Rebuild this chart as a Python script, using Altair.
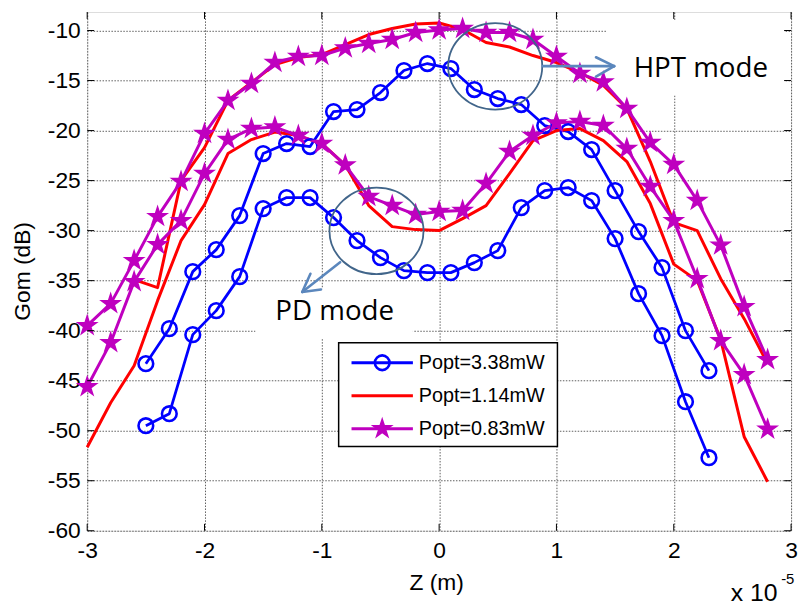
import altair as alt
import pandas as pd

# ---------------- data (Z in units of 1e-5 m, Gom in dB) ----------------
z_blue = [-2.5, -2.3, -2.1, -1.9, -1.7, -1.5, -1.3, -1.1, -0.9, -0.7, -0.5, -0.3, -0.1,
          0.1, 0.3, 0.5, 0.7, 0.9, 1.1, 1.3, 1.5, 1.7, 1.9, 2.1, 2.3]
blue_hpt = [-43.3, -39.8, -34.1, -31.9, -28.5, -22.3, -21.3, -21.6, -18.1, -17.9, -16.2, -14.0, -13.3,
            -13.8, -15.9, -16.8, -17.4, -19.5, -20.1, -21.9, -26.0, -30.1, -33.7, -40.0, -44.0]
blue_pd = [-49.5, -48.3, -40.4, -38.0, -34.6, -27.8, -26.7, -26.7, -28.7, -31.0, -32.7, -34.0, -34.2,
           -34.2, -33.2, -32.0, -27.7, -26.0, -25.7, -27.0, -30.8, -36.3, -40.5, -47.1, -52.7]

z_full = [-3.0, -2.8, -2.6, -2.4, -2.2, -2.0, -1.8, -1.6, -1.4, -1.2, -1.0, -0.8, -0.6, -0.4, -0.2,
          0.0, 0.2, 0.4, 0.6, 0.8, 1.0, 1.2, 1.4, 1.6, 1.8, 2.0, 2.2, 2.4, 2.6, 2.8]
mag_hpt = [-39.5, -37.3, -33.0, -28.6, -25.1, -20.3, -17.0, -15.3, -13.2, -12.6, -12.5, -11.75, -11.3, -10.9, -10.2,
           -9.95, -9.8, -10.2, -10.2, -10.9, -12.6, -14.3, -15.15, -17.8, -21.2, -23.4, -27.0, -31.45, -37.6, -42.9]
mag_pd = [-45.6, -41.2, -35.1, -31.4, -29.0, -24.3, -20.9, -19.8, -19.65, -20.5, -21.3, -23.45, -26.6, -27.5, -28.4,
          -28.1, -28.0, -25.3, -22.1, -20.5, -19.25, -19.1, -19.5, -21.8, -25.6, -29.0, -34.8, -41.0, -44.4, -49.85]
red_pd = [-51.65, -47.2, -43.5, -37.0, -31.0, -27.4, -22.3, -20.9, -20.15, -20.5, -21.3, -23.45, -27.5, -29.6, -29.9,
          -30.0, -28.8, -27.5, -24.3, -21.0, -20.0, -19.8, -21.0, -23.1, -27.3, -33.35, -35.0, -40.9, -50.6, -55.1]

z_red_hpt = [-2.6, -2.4, -2.2, -2.0, -1.8, -1.6, -1.4, -1.2, -1.0, -0.8, -0.6, -0.4, -0.2,
             0.0, 0.2, 0.4, 0.6, 0.8, 1.0, 1.2, 1.4, 1.6, 1.8, 2.0, 2.2, 2.4, 2.6, 2.8]
red_hpt = [-34.9, -35.7, -25.0, -21.7, -17.0, -15.2, -13.4, -12.7, -12.4, -11.4, -10.4, -9.8, -9.35,
           -9.25, -9.9, -11.2, -11.65, -12.5, -13.2, -14.2, -15.5, -17.8, -23.1, -29.2, -30.0, -34.8, -38.8, -43.3]

series_labels = ["Popt=3.38mW", "Popt=1.14mW", "Popt=0.83mW"]
series_colors = ["#0000ff", "#ff0000", "#bf00bf"]

x_ticks = [-3, -2, -1, 0, 1, 2, 3]
y_ticks = [-60, -55, -50, -45, -40, -35, -30, -25, -20, -15, -10]

# ---------------- layout constants ----------------
W, H = 711, 524
FONT = "Liberation Sans"
STAR = ("M0,-1 L0.2245,-0.309 L0.951,-0.309 L0.363,0.118 L0.588,0.809 L0,0.382 "
        "L-0.588,0.809 L-0.363,0.118 L-0.951,-0.309 L-0.2245,-0.309 Z")
ELLIPSE = "M-1,0 A1,0.92 0 1,1 1,0 A1,0.92 0 1,1 -1,0 Z"
CIRC_SIZE, STAR_SIZE = 220, 380


def frame(z, g, curve, series):
    return pd.DataFrame({"z": z, "gom": g, "curve": curve, "series": series})


blue_df = pd.concat([frame(z_blue, blue_hpt, "b1", series_labels[0]),
                     frame(z_blue, blue_pd, "b2", series_labels[0])])
red_df = pd.concat([frame(z_red_hpt, red_hpt, "r1", series_labels[1]),
                    frame(z_full, red_pd, "r2", series_labels[1])])
mag_df = pd.concat([frame(z_full, mag_hpt, "m1", series_labels[2]),
                    frame(z_full, mag_pd, "m2", series_labels[2])])

xs = alt.Scale(domain=[-3, 3], nice=False, zero=False)
ys = alt.Scale(domain=[-60, -8.15], nice=False, zero=False)
cs = alt.Scale(domain=series_labels, range=series_colors)

common_axis = dict(title=None, grid=True, ticks=False, domain=False,
                   labelFontSize=23, labelFont=FONT, labelColor="black",
                   labelFlush=False, gridDash=[1.5, 1.5], gridColor="#5e5e5e", gridWidth=1,
                   labelExpr="'' + datum.value")
x_axis = alt.Axis(values=x_ticks, labelPadding=9, **common_axis)
y_axis = alt.Axis(values=y_ticks, labelPadding=7, **common_axis)

one = pd.DataFrame({"k": [0]})

# white boxes behind the text annotations
boxes = alt.Chart(pd.DataFrame({"x": [525, 170], "x2": [704, 329], "y": [9, 279], "y2": [84, 330]})).mark_rect(
    fill="white").encode(
    x=alt.X("x:Q", scale=None), x2="x2:Q", y=alt.Y("y:Q", scale=None), y2="y2:Q")


def lines(df, width):
    return alt.Chart(df).mark_line(strokeWidth=width, strokeJoin="round").encode(
        x=alt.X("z:Q", scale=xs, axis=x_axis),
        y=alt.Y("gom:Q", scale=ys, axis=y_axis),
        color=alt.Color("series:N", scale=cs, legend=None),
        detail="curve:N",
        order="z:Q",
    )


blue_line = lines(blue_df, 2.8)
blue_pts = alt.Chart(blue_df).mark_point(shape="circle", size=CIRC_SIZE, filled=False, strokeWidth=2.6,
                                         opacity=1).encode(
    x=alt.X("z:Q", scale=xs), y=alt.Y("gom:Q", scale=ys),
    color=alt.Color("series:N", scale=cs, legend=None))
red_line = lines(red_df, 3)
mag_line = lines(mag_df, 3)
mag_pts = alt.Chart(mag_df).mark_point(shape=STAR, size=STAR_SIZE, filled=True, strokeWidth=1.5, opacity=1).encode(
    x=alt.X("z:Q", scale=xs), y=alt.Y("gom:Q", scale=ys),
    color=alt.Color("series:N", scale=cs, legend=None),
    stroke=alt.Color("series:N", scale=cs, legend=None))

# inward ticks on all four sides
yt = pd.DataFrame({"v": y_ticks})
xt = pd.DataFrame({"v": x_ticks})
tick_l = alt.Chart(yt).mark_rule(color="black", strokeWidth=1).encode(
    y=alt.Y("v:Q", scale=ys), x=alt.value(0), x2=alt.value(7))
tick_r = alt.Chart(yt).mark_rule(color="black", strokeWidth=1).encode(
    y=alt.Y("v:Q", scale=ys), x=alt.value(W - 7), x2=alt.value(W))
tick_b = alt.Chart(xt).mark_rule(color="black", strokeWidth=1).encode(
    x=alt.X("v:Q", scale=xs), y=alt.value(H - 7), y2=alt.value(H))
tick_t = alt.Chart(xt).mark_rule(color="black", strokeWidth=1).encode(
    x=alt.X("v:Q", scale=xs), y=alt.value(0), y2=alt.value(7))

# annotations
ann_circ = alt.Chart(pd.DataFrame({"z": [0.478, -0.534], "g": [-13.58, -30.03]})).mark_point(
    shape=ELLIPSE, size=9025, filled=False, stroke="#41658a", strokeWidth=1.8, opacity=1).encode(
    x=alt.X("z:Q", scale=xs), y=alt.Y("g:Q", scale=ys))
arrows = pd.DataFrame({
    "z":  [0.884, 1.492, 1.492, -0.844, -1.167, -1.167],
    "g":  [-13.56, -13.56, -13.56, -33.16, -36.13, -36.13],
    "z2": [1.492, 1.337, 1.337, -1.167, -1.097, -1.007],
    "g2": [-13.56, -12.67, -14.61, -36.13, -34.31, -35.89],
})
ann_arrow = alt.Chart(arrows).mark_rule(color="#5b87bd", strokeWidth=2.6, strokeCap="round").encode(
    x=alt.X("z:Q", scale=xs), y=alt.Y("g:Q", scale=ys), x2="z2:Q", y2="g2:Q")
ann_text = alt.Chart(pd.DataFrame({"t": ["HPT mode", "PD mode"], "x": [552, 190], "y": [66, 311]})).mark_text(
    font="Open Sans", fontSize=28, align="left", baseline="alphabetic", color="black").encode(
    x=alt.X("x:Q", scale=None), y=alt.Y("y:Q", scale=None), text="t:N")

# legend (drawn by hand to match the MATLAB look)
leg_box = alt.Chart(one).mark_rect(fill="white", stroke="black", strokeWidth=1.5).encode(
    x=alt.value(254), x2=alt.value(475), y=alt.value(334), y2=alt.value(439))
leg_rows = [354.3, 387.7, 421.0]
leg_layers = []
for lab, col, yy in zip(series_labels, series_colors, leg_rows):
    leg_layers.append(alt.Chart(one).mark_rule(color=col, strokeWidth=3).encode(
        x=alt.value(267), x2=alt.value(329), y=alt.value(yy)))
    leg_layers.append(alt.Chart(one).mark_text(font=FONT, fontSize=20, align="left", baseline="middle",
                                               color="black", text=lab).encode(
        x=alt.value(335), y=alt.value(yy)))
leg_layers.append(alt.Chart(one).mark_point(shape="circle", size=CIRC_SIZE, filled=False, strokeWidth=2.6,
                                            opacity=1, color=series_colors[0]).encode(
    x=alt.value(298), y=alt.value(leg_rows[0])))
leg_layers.append(alt.Chart(one).mark_point(shape=STAR, size=STAR_SIZE, filled=True, strokeWidth=1.5, opacity=1,
                                            color=series_colors[2], stroke=series_colors[2]).encode(
    x=alt.value(298), y=alt.value(leg_rows[2])))

# axis titles and exponent
titles = [
    alt.Chart(one).mark_text(font=FONT, fontSize=23, angle=270, align="center", baseline="middle",
                             color="black", text="Gom (dB)").encode(x=alt.value(-65), y=alt.value(262)),
    alt.Chart(one).mark_text(font=FONT, fontSize=23, align="center", baseline="alphabetic",
                             color="black", text="Z (m)").encode(x=alt.value(353), y=alt.value(584)),
    alt.Chart(one).mark_text(font=FONT, fontSize=25, align="left", baseline="alphabetic",
                             color="black", text="x 10").encode(x=alt.value(650), y=alt.value(595)),
    alt.Chart(one).mark_text(font=FONT, fontSize=15, align="left", baseline="alphabetic",
                             color="black", text="-5").encode(x=alt.value(701), y=alt.value(578)),
]

chart = alt.layer(
    blue_line, boxes, red_line, mag_line, blue_pts, mag_pts,
    tick_l, tick_r, tick_b, tick_t,
    ann_circ, ann_arrow, ann_text,
    leg_box, *leg_layers, *titles,
).properties(
    width=W, height=H,
    padding={"left": 80, "top": 1, "right": 7, "bottom": 76},
    autosize=alt.AutoSizeParams(type="none"),
).configure_view(stroke="black", strokeWidth=1.6).configure(background="white")

chart.save("out.html", embed_options={"renderer": "svg", "actions": False})
